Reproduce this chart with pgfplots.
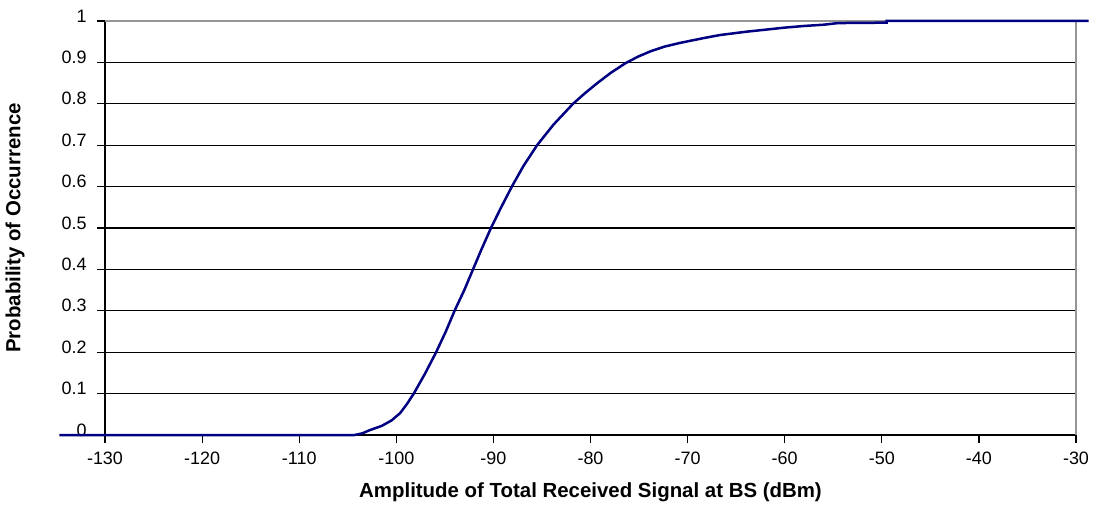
\documentclass[border=0pt]{standalone}
\usepackage{fontspec}
\setmainfont{Liberation Sans}
\usepackage{pgfplots}
\pgfplotsset{compat=1.18}
\definecolor{navyline}{RGB}{0,0,128}
\definecolor{frame}{RGB}{150,150,150}

\begin{document}
\begin{tikzpicture}
\begin{axis}[
    at={(0,0)}, anchor=south west,
    scale only axis,
    width=971bp, height=414bp,
    xmin=-130, xmax=-30,
    ymin=0, ymax=1,
    clip=false,
    axis x line*=bottom,
    axis y line*=left,
    axis line style={black, line width=1.2bp, -},
    xtick={-130,-120,...,-30},
    ytick={0,0.1,...,1},
    yticklabels={0,0.1,0.2,0.3,0.4,0.5,0.6,0.7,0.8,0.9,1},
    tick align=outside,
    major tick length=8bp,
    tick style={black, line width=1.2bp},
    ymajorgrids,
    major grid style={black, line width=1.2bp},
    /pgf/number format/assume math mode=true,
    ticklabel style={font=\fontsize{18}{21}\selectfont},
    xticklabel style={yshift=-5bp},
    yticklabel style={xshift=-7bp, yshift=5bp},
    xlabel={Amplitude of Total Received Signal at BS (dBm)},
    ylabel={Probability of Occurrence},
    label style={font=\bfseries\fontsize{20.5}{24}\selectfont},
    xlabel style={at={([yshift=-57bp]axis description cs:0.5,0)}, anchor=center},
    ylabel style={at={([xshift=-90bp]axis description cs:0,0.5)}, anchor=center},
]
\draw[frame, line width=1.5bp] (rel axis cs:0,1) -- (rel axis cs:1,1) -- (rel axis cs:1,0);
\addplot[navyline, line width=2.5bp, mark=none] coordinates {
(-134.7,0) (-104.3,0) (-103.5,0.004) (-102.7,0.012) (-101.5,0.022)
(-100.5,0.035) (-99.6,0.053) (-98.9,0.075) (-98.2,0.1) (-97.0,0.15)
(-95.9,0.2) (-94.9,0.25) (-94.0,0.3) (-93.0,0.35) (-92.1,0.4)
(-91.2,0.45) (-90.25,0.5) (-89.2,0.55) (-88.1,0.6) (-86.9,0.65)
(-85.5,0.7) (-83.8,0.75) (-82.8,0.775) (-81.8,0.8) (-80.6,0.825)
(-79.3,0.85) (-77.9,0.875) (-76.4,0.898) (-75.1,0.914) (-73.8,0.927)
(-72.4,0.938) (-70.8,0.947) (-68.5,0.958) (-66.7,0.966)
(-64,0.974) (-62,0.979) (-60,0.984) (-58,0.988) (-56,0.991)
(-54.5,0.995) (-49.5,0.996) (-49.5,1) (-28.7,1)
};
\end{axis}
\pgfresetboundingbox
\path[use as bounding box] (-105bp,-75bp) rectangle (989bp,435bp);
\end{tikzpicture}
\end{document}
